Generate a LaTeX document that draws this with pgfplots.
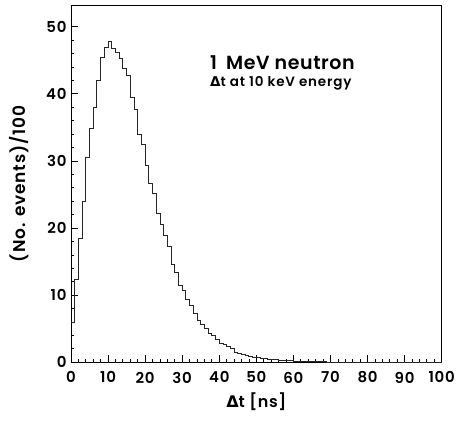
\documentclass[border=0pt]{standalone}
\usepackage{fontspec}
\setmainfont{Poppins}[BoldFont={Poppins SemiBold}]
\newfontfamily\dv{DejaVu Sans}
\usepackage{pgfplots}
\pgfplotsset{compat=1.18}
\begin{document}
\begin{tikzpicture}
\begin{axis}[
  scale only axis, width=370.7pt, height=357pt,
  xmin=0, xmax=100, ymin=0, ymax=53.2,
  axis line style={line width=0.9pt},
  tick align=inside, xtick pos=left, ytick pos=left,
  xtick={0,10,...,100}, minor x tick num=4,
  ytick={0,10,...,50}, minor y tick num=4,
  major tick length=7pt, minor tick length=3.5pt,
  tick style={black, line width=0.8pt},
  /pgf/number format/assume math mode=true,
  ticklabel style={font=\fontsize{15}{15}\selectfont\bfseries\addfontfeature{LetterSpace=5}},
  xticklabel style={yshift=-6pt},
  yticklabel style={xshift=-1pt},
  xlabel={{\dv\bfseries Δ}t [ns]},
  ylabel={(No. events)/100},
  xlabel style={font=\fontsize{16}{16}\selectfont\bfseries\addfontfeature{LetterSpace=4}},
  ylabel style={font=\fontsize{17}{17}\selectfont\bfseries\addfontfeature{LetterSpace=5}},
  xlabel shift=3pt,
  ylabel shift=10pt,
  clip=false,
]
\addplot[const plot, line width=0.9pt, black!85] coordinates {
(0,5.9)(1,12.3)(2,18.4)(3,23.9)(4,30.6)(5,34.8)(6,38.0)(7,42.0)(8,45.5)(9,46.9)
(10,47.8)(11,46.7)(12,46.2)(13,45.3)(14,43.8)(15,42.7)(16,39.5)(17,37.7)(18,34.0)(19,32.5)
(20,29.3)(21,26.7)(22,25.2)(23,22.2)(24,20.5)(25,18.9)(26,17.2)(27,14.6)(28,13.4)(29,11.4)
(30,10.7)(31,9.4)(32,8.5)(33,7.3)(34,6.2)(35,5.7)(36,5.0)(37,4.3)(38,4.0)(39,3.4)
(40,2.8)(41,2.6)(42,2.4)(43,2.0)(44,1.5)(45,1.3)(46,1.1)(47,1.0)(48,0.85)(49,0.75)
(50,0.65)(51,0.55)(52,0.5)(53,0.45)(54,0.4)(55,0.35)(56,0.3)(57,0.28)(58,0.25)(59,0.22)
(60,0.2)(61,0.18)(62,0.15)(63,0.13)(64,0.11)(65,0.1)(66,0.08)(67,0.07)(68,0.06)(69,0.05)
(70,0.04)(71,0.03)(72,0.03)(73,0.02)(74,0.02)(75,0.01)(76,0)(100,0)
};
\node[anchor=west, inner sep=0pt, font=\fontsize{19}{19}\selectfont\bfseries\addfontfeature{LetterSpace=3}] at (axis cs:37.5,44.7) {1\hspace{4pt} MeV neutron};
\node[anchor=west, inner sep=0pt, font=\fontsize{13.5}{13.5}\selectfont\bfseries\addfontfeature{LetterSpace=6}] at (axis cs:37.5,41.6) {{\dv\bfseries Δ}t at 10 keV energy};
\end{axis}
\pgfresetboundingbox
\path (-71pt,-59.7pt) rectangle (388pt,362.3pt);
\end{tikzpicture}
\end{document}
